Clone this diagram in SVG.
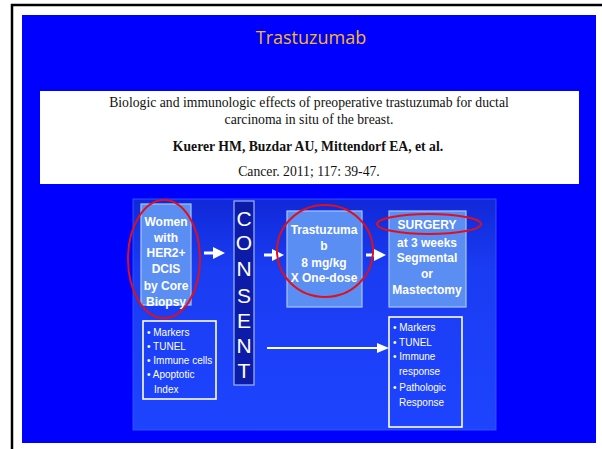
<svg xmlns="http://www.w3.org/2000/svg" width="602" height="449" viewBox="0 0 602 449">
<defs>
<style>
.ref{font-family:"Liberation Serif","Times New Roman",serif;fill:#111;text-anchor:middle;font-size:13.7px}
.nb{font-family:"Liberation Sans",Arial,sans-serif;font-weight:bold;fill:#fff;font-size:12px;text-anchor:middle}
.lb{fill:#5b8ef2;stroke:#a9c3ff;stroke-width:1.2}
.ol{fill:none;stroke:#fff;stroke-width:1.6}
.bl{font-family:"Liberation Sans",Arial,sans-serif;fill:#fff;font-size:10px}
.cs{font-family:"Liberation Sans",Arial,sans-serif;fill:#fff;font-size:21px;text-anchor:middle}
.red{fill:none;stroke:#e0101a;stroke-width:2}
.arr{stroke:#fff;stroke-width:3;fill:none}
</style>
<marker id="ah" markerWidth="4" markerHeight="4" refX="2" refY="2" orient="auto" markerUnits="strokeWidth"><path d="M0,0 L4,2 L0,4 z" fill="#fff"/></marker>
<marker id="ah2" markerWidth="6" markerHeight="5" refX="5" refY="2.5" orient="auto" markerUnits="strokeWidth"><path d="M0,0 L6,2.5 L0,5 z" fill="#fff"/></marker>
<linearGradient id="ig" x1="0" y1="0" x2="0" y2="1">
<stop offset="0" stop-color="#1028d8"/>
<stop offset="0.3" stop-color="#1a3cf2"/>
<stop offset="1" stop-color="#1e44ff"/>
</linearGradient>
</defs>
<path d="M12,449 V5 H602" fill="none" stroke="#000" stroke-width="2.5"/>
<rect x="22" y="15" width="574" height="428" fill="#0000ff"/>
<text x="311" y="44" font-family="Open Sans,Liberation Sans,sans-serif" font-size="18" fill="#f5b820" text-anchor="middle">Trastuzumab</text>
<rect x="40" y="91" width="539" height="93" fill="#fff"/>
<text class="ref" x="309" y="107">Biologic and immunologic effects of preoperative trastuzumab for ductal</text>
<text class="ref" x="309" y="124">carcinoma in situ of the breast.</text>
<text class="ref" x="308" y="151" font-weight="bold">Kuerer HM, Buzdar AU, Mittendorf EA, et al.</text>
<text class="ref" x="309" y="176">Cancer. 2011; 117: 39-47.</text>
<rect x="133" y="199" width="363" height="231" fill="url(#ig)" stroke="#3a5cff" stroke-width="0.8"/>
<g id="women">
<rect class="lb" x="141" y="204" width="50" height="101"/>
<text class="nb" x="166" y="226">Women</text>
<text class="nb" x="166" y="242">with</text>
<text class="nb" x="166" y="257">HER2+</text>
<text class="nb" x="166" y="273">DCIS</text>
<text class="nb" x="166" y="290">by Core</text>
<text class="nb" x="166" y="306">Biopsy</text>
</g>
<g id="consent">
<rect x="234" y="201" width="20" height="184" fill="#0c1ca8" stroke="#9fb8ff" stroke-width="1.2"/>
<text class="cs" x="244" y="226">C</text>
<text class="cs" x="244" y="250">O</text>
<text class="cs" x="244" y="276">N</text>
<text class="cs" x="244" y="303">S</text>
<text class="cs" x="244" y="328">E</text>
<text class="cs" x="244" y="353">N</text>
<text class="cs" x="244" y="378">T</text>
</g>
<g id="trastuzumab">
<rect class="lb" x="287" y="211" width="75" height="96"/>
<text class="nb" x="324" y="234">Trastuzuma</text>
<text class="nb" x="324" y="250">b</text>
<text class="nb" x="324" y="267">8 mg/kg</text>
<text class="nb" x="324" y="282">X One-dose</text>
</g>
<g id="surgery">
<rect class="lb" x="389" y="211" width="77" height="96"/>
<text class="nb" x="427" y="229">SURGERY</text>
<text class="nb" x="427" y="247">at 3 weeks</text>
<text class="nb" x="427" y="262">Segmental</text>
<text class="nb" x="427" y="278">or</text>
<text class="nb" x="427" y="294" font-size="11.5">Mastectomy</text>
</g>
<g id="pre-markers">
<rect class="ol" x="143" y="321" width="73" height="78"/>
<text class="bl" x="147" y="336">• Markers</text>
<text class="bl" x="147" y="350">• TUNEL</text>
<text class="bl" x="147" y="364">• Immune cells</text>
<text class="bl" x="147" y="378">• Apoptotic</text>
<text class="bl" x="154" y="393">Index</text>
</g>
<g id="post-markers">
<rect class="ol" x="389" y="317" width="73" height="110"/>
<text class="bl" x="393" y="331">• Markers</text>
<text class="bl" x="393" y="346">• TUNEL</text>
<text class="bl" x="393" y="360">• Immune</text>
<text class="bl" x="399" y="375">response</text>
<text class="bl" x="393" y="391" font-size="12">• Pathologic</text>
<text class="bl" x="399" y="406" font-size="12">Response</text>
</g>
<g id="connectors">
<line class="arr" x1="204" y1="253" x2="219" y2="253" marker-end="url(#ah)"/>
<line class="arr" x1="264" y1="255" x2="278" y2="255" marker-end="url(#ah)"/>
<line class="arr" x1="366" y1="255" x2="380" y2="255" marker-end="url(#ah)"/>
<line x1="267" y1="348" x2="387" y2="348" stroke="#fff" stroke-width="2" marker-end="url(#ah2)"/>
</g>
<g id="highlights">
<ellipse class="red" cx="164" cy="259" rx="36" ry="59"/>
<ellipse class="red" cx="325" cy="251" rx="48" ry="46"/>
<ellipse class="red" cx="429" cy="224" rx="52" ry="10"/>
</g>
</svg>
